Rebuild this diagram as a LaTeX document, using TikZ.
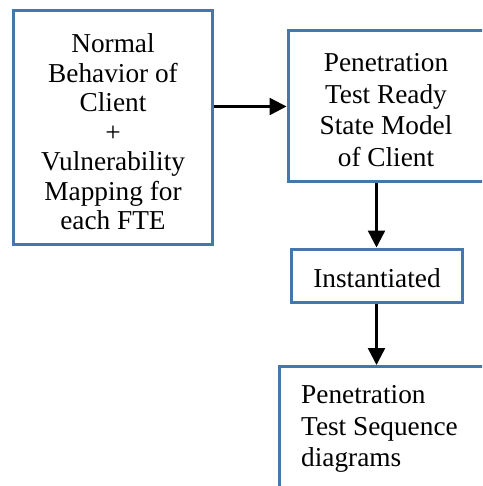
\documentclass[tikz,border=0pt]{standalone}
\usepackage{fontspec}
\setmainfont{Liberation Serif}
\usetikzlibrary{arrows.meta}
\definecolor{boxblue}{RGB}{70,118,170}
\tikzset{
  flowbox/.style={draw=boxblue, line width=3pt, inner sep=0pt},
  flowtext/.style={inner sep=0pt, align=center},
  flowarrow/.style={line width=2.4pt, -{Triangle[length=17pt,width=17pt]}}
}
\begin{document}
\begin{tikzpicture}[x=1pt,y=-1pt]
\useasboundingbox (0,0) rectangle (482,486);
\clip (0,0) rectangle (482,486);
\node[flowbox, minimum width=199pt, minimum height=233pt] (client) at (112.5,127.5) {};
\node[flowtext, font=\fontsize{27.3}{29.5}\selectfont] (clienttext) at (113,132)
  {Normal\\Behavior of\\Client\\+\\Vulnerability\\Mapping for\\each FTE};
\node[flowbox, minimum width=196pt, minimum height=151pt] (ready) at (386,106.5) {};
\node[flowtext, font=\fontsize{27.3}{31.7}\selectfont] (readytext) at (386,110)
  {Penetration\\Test Ready\\State Model\\of Client};
\node[flowbox, minimum width=171pt, minimum height=53pt] (inst) at (376.5,275.5) {};
\node[flowtext, font=\fontsize{27.3}{31.7}\selectfont] (insttext) at (377,278) {Instantiated};
\node[flowbox, minimum width=250pt, minimum height=180pt, anchor=north west] (seq) at (278,365) {};
\node[anchor=north west, inner sep=0pt, align=left, font=\fontsize{27.3}{31.5}\selectfont] (seqtext) at (301,385.5)
  {Penetration\\Test Sequence\\diagrams};
\draw[flowarrow] (client.east |- ready.west) -- (ready.west);
\draw[flowarrow] (inst.north |- ready.south) -- (inst.north);
\draw[flowarrow] (inst.south) -- (inst.south |- seq.north);
\end{tikzpicture}
\end{document}
